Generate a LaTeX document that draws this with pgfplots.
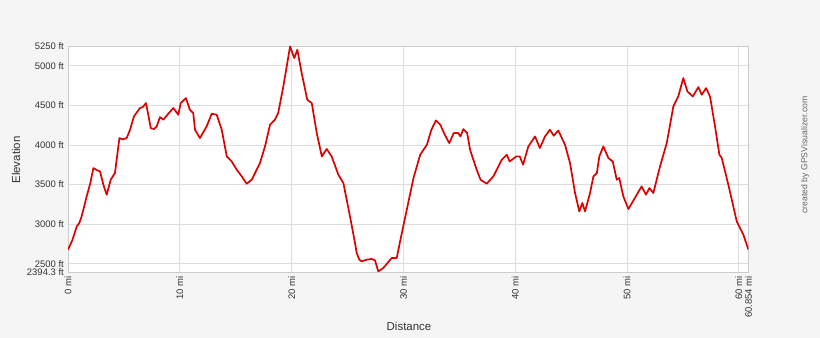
\documentclass[border=0pt]{standalone}
\usepackage{pgfplots}
\pgfplotsset{compat=1.18}
\usepackage{fontspec}
\setmainfont{Liberation Sans}
\definecolor{bgc}{HTML}{F5F5F5}
\definecolor{gridc}{HTML}{DDDDDD}
\definecolor{framec}{HTML}{CCCCCC}
\definecolor{txt}{HTML}{333333}
\definecolor{linec}{HTML}{DD0000}
\begin{document}
\begin{tikzpicture}
\useasboundingbox (0,0) rectangle (820bp,338bp);
\fill[bgc] (0,0) rectangle (820bp,338bp);
\begin{axis}[
  at={(68bp,66bp)}, anchor=south west,
  scale only axis, width=680.4bp, height=226bp,
  xmin=0, xmax=60.854, ymin=2394.3, ymax=5250,
  axis background/.style={fill=white},
  axis line style={framec},
  grid=major, major grid style={gridc, line width=0.8pt},
  major tick length=0pt,
  xtick={0,10,20,30,40,50,60,60.854},
  xticklabels={0 mi,10 mi,20 mi,30 mi,40 mi,50 mi,60 mi,60.854 mi},
  ytick={2394.3,2500,3000,3500,4000,4500,5000,5250},
  yticklabels={2394.3 ft,2500 ft,3000 ft,3500 ft,4000 ft,4500 ft,5000 ft,5250 ft},
  x tick label style={rotate=90, anchor=east, font=\fontsize{9.5}{10}\selectfont, text=txt, inner sep=1pt},
  y tick label style={anchor=east, font=\fontsize{9.5}{10}\selectfont, text=txt, inner sep=1pt},
  xticklabel shift=3bp, yticklabel shift=3bp,
  clip=true,
]
\addplot[linec, line width=1.7pt, line join=round] coordinates {
(0,2676) (0.4,2800) (0.78,2970) (1.0,3010) (1.22,3097) (1.67,3349) (2.0,3520) (2.27,3708) (2.6,3680) (2.86,3665) (3.2,3480) (3.46,3371) (3.82,3560) (4.2,3645) (4.6,4087) (4.9,4070) (5.25,4087) (5.55,4192) (5.9,4360) (6.2,4420) (6.44,4466) (6.7,4480) (6.98,4529) (7.4,4213) (7.7,4200) (7.93,4234) (8.23,4352) (8.53,4318) (9.0,4400) (9.42,4466) (9.87,4381) (10.08,4529) (10.55,4592) (10.9,4444) (11.2,4403) (11.36,4192) (11.8,4087) (12.4,4234) (12.85,4394) (13.3,4381) (13.75,4192) (14.2,3855) (14.64,3791) (15.09,3687) (15.54,3602) (15.98,3510) (16.43,3560) (16.73,3645) (17.17,3771) (17.62,3981) (18.07,4255) (18.5,4318) (18.8,4403) (19.26,4739) (19.86,5244) (20.24,5097) (20.51,5202) (20.9,4908) (21.4,4571) (21.8,4529) (22.25,4150) (22.7,3855) (23.14,3948) (23.58,3855) (24.18,3623) (24.63,3518) (25.22,3097) (25.67,2761) (25.82,2634) (26.06,2550) (26.27,2528) (26.7,2550) (27.16,2559) (27.46,2541) (27.75,2402) (28.2,2445) (28.95,2571) (29.4,2571) (29.7,2781) (30.3,3181) (30.9,3582) (31.5,3876) (32.1,4002) (32.5,4192) (32.9,4309) (33.3,4255) (33.7,4129) (34.1,4023) (34.5,4150) (34.9,4150) (35.1,4107) (35.36,4200) (35.7,4150) (35.96,3939) (36.55,3687) (36.9,3560) (37.45,3510) (38.04,3602) (38.8,3813) (39.24,3876) (39.5,3791) (40.1,3855) (40.4,3855) (40.7,3750) (41.17,3981) (41.77,4107) (42.2,3961) (42.66,4107) (43.1,4192) (43.45,4116) (43.85,4183) (44.45,4002) (44.9,3771) (45.35,3392) (45.73,3160) (46.0,3266) (46.24,3160) (46.69,3392) (46.99,3602) (47.3,3645) (47.52,3855) (47.88,3981) (48.33,3834) (48.72,3791) (49.08,3560) (49.3,3582) (49.67,3349) (50.12,3190) (50.7,3329) (51.3,3476) (51.7,3371) (52.0,3455) (52.35,3392) (52.95,3729) (53.55,4023) (54.14,4486) (54.58,4612) (55.03,4845) (55.4,4676) (55.88,4612) (56.38,4731) (56.68,4634) (57.07,4718) (57.42,4612) (57.87,4234) (58.26,3876) (58.47,3834) (59.06,3497) (59.81,3034) (60.4,2866) (60.854,2676)
};
\end{axis}
\node[text=txt, font=\fontsize{11.5}{12}\selectfont] at (409bp,12bp) {Distance};
\node[text=txt, font=\fontsize{11.5}{12}\selectfont, rotate=90] at (16bp,178bp) {Elevation};
\node[text=black!60, font=\fontsize{8.7}{9}\selectfont, rotate=90] at (805bp,183bp) {created by GPSVisualizer.com};
\end{tikzpicture}
\end{document}
